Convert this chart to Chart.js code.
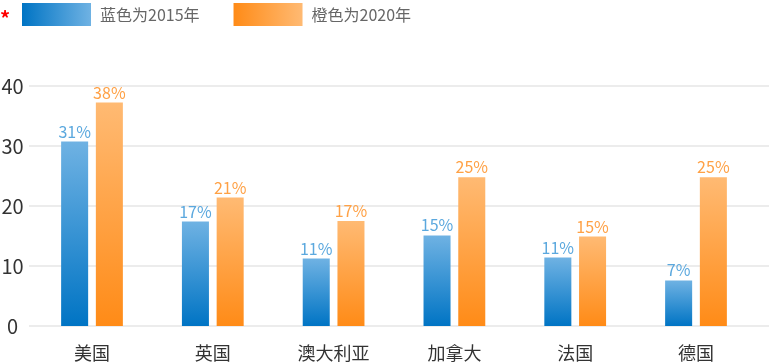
<!DOCTYPE html>
<html><head><meta charset="utf-8">
<script src="https://cdn.jsdelivr.net/npm/chart.js@4"></script>
<style>html,body{margin:0;padding:0;background:#fff}#wrap{width:770px;height:363px;position:relative}</style>
</head><body><div id="wrap"><canvas id="c" width="770" height="363"></canvas></div>
<script>
const categories = ['美国','英国','澳大利亚','加拿大','法国','德国'];
const seriesNames = ['蓝色为2015年','橙色为2020年'];
const values2015 = [30.75, 17.4, 11.25, 15.1, 11.4, 7.6];
const values2020 = [37.25, 21.4, 17.5, 24.8, 14.9, 24.8];
const labels2015 = ['31%','17%','11%','15%','11%','7%'];
const labels2020 = ['38%','21%','17%','25%','15%','25%'];
const yTicks = [0, 10, 20, 30, 40];

const FONT = '"Noto Sans CJK SC", "Noto Sans", sans-serif';
const palette = [
  {dark:'#0074c4', light:'#6fb2e3', text:'#5ba8de'},
  {dark:'#ff8b17', light:'#ffba73', text:'#ffa145'}
];

function barGradient(idx){
  return (ctx) => {
    const chart = ctx.chart;
    if (!chart.chartArea || ctx.type !== 'data') return palette[idx].dark;
    const ys = chart.scales.y;
    const y0 = ys.getPixelForValue(0);
    const y1 = ys.getPixelForValue(ctx.parsed.y);
    const g = chart.ctx.createLinearGradient(0, y0, 0, y1);
    g.addColorStop(0, palette[idx].dark);
    g.addColorStop(1, palette[idx].light);
    return g;
  };
}

const gridPlugin = {
  id: 'customGrid',
  beforeDatasetsDraw(chart){
    const c = chart.ctx, ys = chart.scales.y;
    c.save();
    c.strokeStyle = '#ececec';
    c.lineWidth = 2;
    yTicks.forEach(v => {
      const y = Math.round(ys.getPixelForValue(v));
      c.beginPath();
      c.moveTo(29, y);
      c.lineTo(chart.width - 1, y);
      c.stroke();
    });
    c.restore();
  }
};

const labelPlugin = {
  id: 'valueLabels',
  afterDatasetsDraw(chart){
    const c = chart.ctx;
    const allLabels = [labels2015, labels2020];
    c.save();
    c.font = '16px ' + FONT;
    c.textAlign = 'center';
    c.textBaseline = 'alphabetic';
    chart.data.datasets.forEach((ds, di) => {
      const meta = chart.getDatasetMeta(di);
      c.fillStyle = palette[di].text;
      meta.data.forEach((el, i) => {
        c.fillText(allLabels[di][i], el.x, el.y - 4);
      });
    });
    c.restore();
  }
};

const legendPlugin = {
  id: 'customLegend',
  afterDraw(chart){
    const c = chart.ctx;
    c.save();
    c.fillStyle = '#ff0000';
    c.font = 'bold 20px ' + FONT;
    c.textAlign = 'center';
    c.textBaseline = 'alphabetic';
    c.fillText('*', 5, 26);
    c.font = '16px ' + FONT;
    c.textAlign = 'left';
    c.textBaseline = 'middle';
    let x = 22;
    seriesNames.forEach((name, i) => {
      const g = c.createLinearGradient(x, 0, x + 69, 0);
      g.addColorStop(0, palette[i].dark);
      g.addColorStop(1, palette[i].light);
      c.fillStyle = g;
      c.fillRect(x, 3, 69, 23);
      c.fillStyle = '#666666';
      c.fillText(name, x + 78, 14.5);
      x += 78 + c.measureText(name).width + 34;
    });
    c.restore();
  }
};

new Chart(document.getElementById('c'), {
  type: 'bar',
  data: {
    labels: categories,
    datasets: [
      {label: seriesNames[0], data: values2015, backgroundColor: barGradient(0), categoryPercentage: 0.575, barPercentage: 0.778},
      {label: seriesNames[1], data: values2020, backgroundColor: barGradient(1), categoryPercentage: 0.575, barPercentage: 0.778}
    ]
  },
  options: {
    responsive: false,
    devicePixelRatio: 1,
    animation: false,
    layout: {padding: {top: 86, right: 13.6, left: 0, bottom: 0}},
    plugins: {legend: {display: false}, tooltip: {enabled: false}},
    scales: {
      x: {
        grid: {display: false, drawTicks: false},
        border: {display: false},
        ticks: {padding: 16, color: '#333', font: {family: FONT, size: 18}},
        afterFit(s){ s.height = 37; }
      },
      y: {
        min: 0, max: 40,
        grid: {display: false, drawTicks: false},
        border: {display: false},
        afterBuildTicks(s){ s.ticks = yTicks.map(v => ({value: v})); },
        ticks: {padding: 8, crossAlign: 'center', color: '#333', font: {family: FONT, size: 20}},
        afterFit(s){ s.width = 31.6; }
      }
    }
  },
  plugins: [gridPlugin, labelPlugin, legendPlugin]
});
</script></body></html>
